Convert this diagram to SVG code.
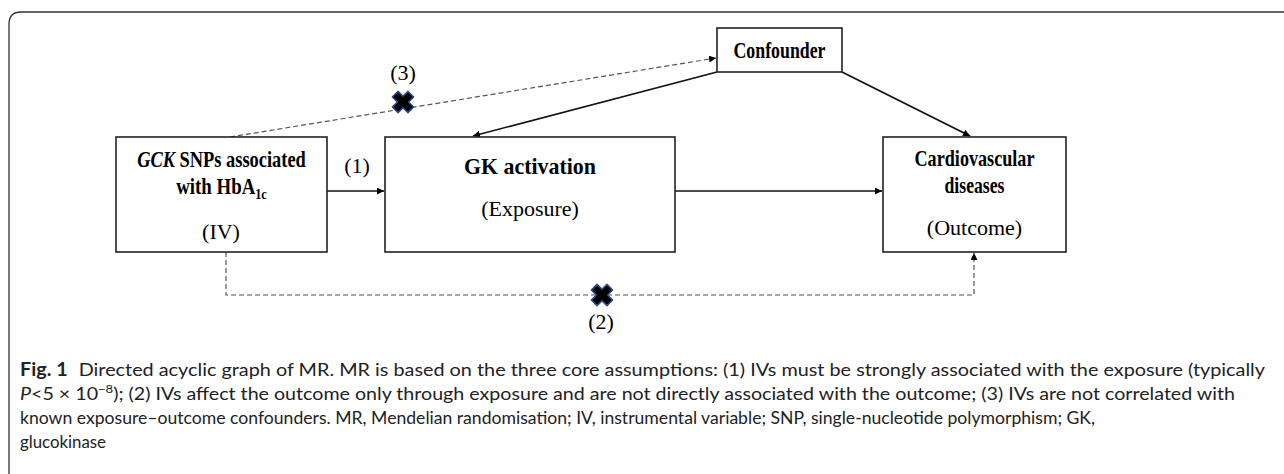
<svg xmlns="http://www.w3.org/2000/svg" width="1284" height="474" viewBox="0 0 1284 474">
<defs>
<style>
.box{fill:#fff;stroke:#222;stroke-width:1.6}
.tb{font-family:"Liberation Serif","Times New Roman",serif;font-weight:bold;font-size:23px;fill:#000;text-anchor:middle}
.tr{font-family:"Liberation Serif","Times New Roman",serif;font-size:22px;fill:#000;text-anchor:middle}
.solid{fill:none;stroke:#111;stroke-width:1.6}
.dash{fill:none;stroke:#555;stroke-width:1.2;stroke-dasharray:5 3}
.cap{font-family:Lato,"Open Sans",sans-serif;font-size:18px;fill:#222}
</style>
<marker id="ah" viewBox="0 0 10 10" refX="10" refY="5" markerWidth="7" markerHeight="7" markerUnits="userSpaceOnUse" orient="auto"><path d="M0,0 L10,5 L0,10 z" fill="#000"/></marker>
<polygon id="xmark" points="-4,-11 4,-11 4,-4 11,-4 11,4 4,4 4,11 -4,11 -4,4 -11,4 -11,-4 -4,-4" transform="rotate(45)" fill="#000" stroke="#2a4a8a" stroke-width="1.5" stroke-linejoin="round"/>
</defs>
<rect width="1284" height="474" fill="#fff"/>
<path d="M9,474 V24 Q9,12 21,12 H1290" fill="none" stroke="#333" stroke-width="1.3"/>

<g id="connectors">
<path class="dash" d="M230,137 L716,58" marker-end="url(#ah)"/>
<path class="dash" d="M226,252 V295 H974 V253" marker-end="url(#ah)"/>
<path class="solid" d="M327,191 H384" marker-end="url(#ah)"/>
<path class="solid" d="M675,191 H882" marker-end="url(#ah)"/>
<path class="solid" d="M717,72 L473,136" marker-end="url(#ah)"/>
<path class="solid" d="M842,72 L970,136" marker-end="url(#ah)"/>
<use href="#xmark" x="403" y="102"/>
<use href="#xmark" x="602" y="295"/>
<text class="tr" x="403" y="80">(3)</text>
<text class="tr" x="357" y="173">(1)</text>
<text class="tr" x="601" y="329">(2)</text>
</g>

<g id="node-confounder">
<rect class="box" x="717" y="28" width="125" height="44"/>
<text class="tb" x="779.5" y="58" textLength="92" lengthAdjust="spacingAndGlyphs">Confounder</text>
</g>

<g id="node-iv">
<rect class="box" x="116" y="137" width="211" height="115"/>
<text class="tb" transform="translate(221.5,167) scale(0.8,1)"><tspan font-style="italic">GCK</tspan> SNPs associated</text>
<text class="tb" transform="translate(221.5,194) scale(0.82,1)">with HbA<tspan font-size="15" dy="5">1c</tspan></text>
<text class="tr" x="221" y="239">(IV)</text>
</g>

<g id="node-gk">
<rect class="box" x="385" y="137" width="290" height="115"/>
<text class="tb" x="530" y="174" textLength="132" lengthAdjust="spacingAndGlyphs">GK activation</text>
<text class="tr" x="530" y="216">(Exposure)</text>
</g>

<g id="node-cvd">
<rect class="box" x="883" y="137" width="183" height="115"/>
<text class="tb" x="974.5" y="166" textLength="120" lengthAdjust="spacingAndGlyphs">Cardiovascular</text>
<text class="tb" x="974.5" y="193" textLength="60" lengthAdjust="spacingAndGlyphs">diseases</text>
<text class="tr" x="974.5" y="235">(Outcome)</text>
</g>

<g id="caption">
<text class="cap" x="20" y="376" textLength="1245" lengthAdjust="spacingAndGlyphs"><tspan font-weight="bold">Fig. 1</tspan><tspan dx="10">Directed acyclic graph of MR. MR is based on the three core assumptions: (1) IVs must be strongly associated with the exposure (typically</tspan></text>
<text class="cap" x="20" y="400" textLength="1215" lengthAdjust="spacingAndGlyphs"><tspan font-style="italic">P</tspan>&lt;5 × 10<tspan font-size="12" dy="-7">−8</tspan><tspan dy="7">); (2) IVs affect the outcome only through exposure and are not directly associated with the outcome; (3) IVs are not correlated with</tspan></text>
<text class="cap" x="20" y="424" textLength="1075" lengthAdjust="spacingAndGlyphs">known exposure–outcome confounders. MR, Mendelian randomisation; IV, instrumental variable; SNP, single-nucleotide polymorphism; GK,</text>
<text class="cap" x="20" y="448" textLength="86" lengthAdjust="spacingAndGlyphs">glucokinase</text>
</g>
</svg>
